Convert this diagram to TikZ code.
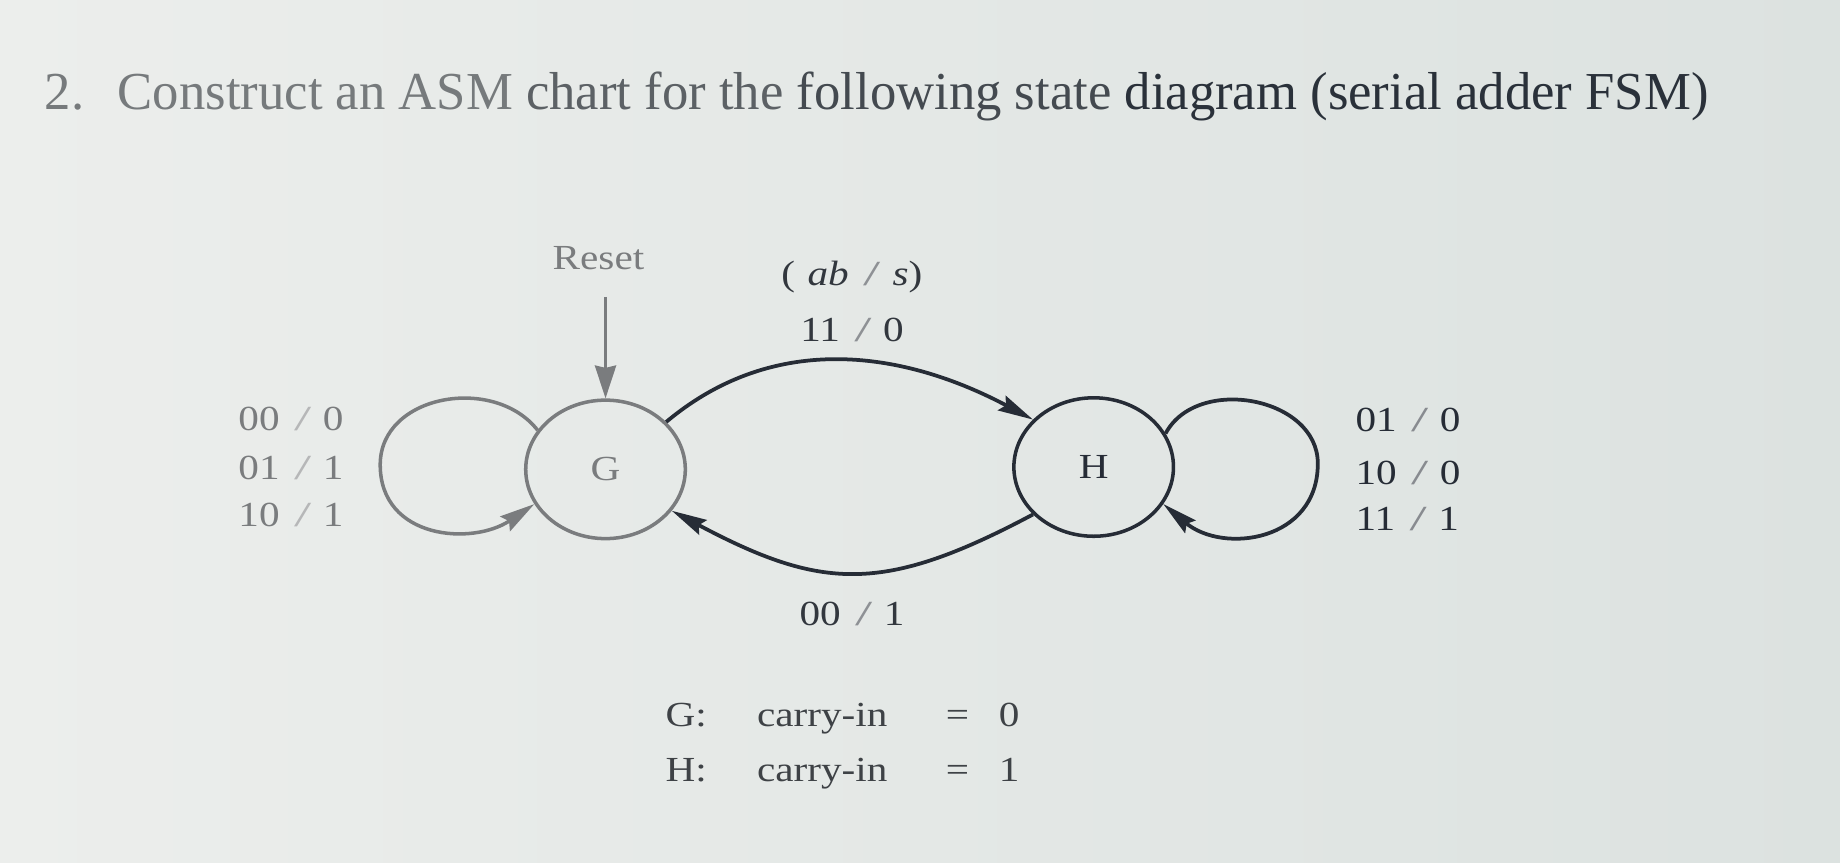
\documentclass[tikz,border=0pt]{standalone}
\usepackage{fontspec}
\usepackage{graphicx}
\setmainfont{Liberation Serif}
\usetikzlibrary{arrows.meta,shapes.geometric}
\definecolor{bgl}{RGB}{236,238,236}
\definecolor{bgr}{RGB}{220,226,224}
\definecolor{gc}{RGB}{122,124,126}
\definecolor{hc}{RGB}{38,44,54}
\definecolor{lc}{RGB}{50,55,62}
\definecolor{tc}{RGB}{62,66,70}
\definecolor{ta}{RGB}{118,122,124}
\definecolor{tb}{RGB}{92,97,101}
\definecolor{td}{RGB}{68,74,80}
\definecolor{te}{RGB}{42,49,58}
\newcommand\ws[1]{\scalebox{1.17}[1]{#1}}
\newcommand\io[2]{#1\hspace{.35em}{\color{.!55!white}\scalebox{1.5}[1]{/}}\hspace{.28em}#2}
\begin{document}
\begin{tikzpicture}[x=1pt,y=1pt,
  state/.style={ellipse, draw, line width=3pt, minimum width=136pt, minimum height=118pt, inner sep=0pt, font=\fontsize{30}{36}\selectfont},
  lbl/.style={font=\fontsize{30}{36}\selectfont, inner sep=0pt},
  gtr/.style={draw=gc, line width=3pt, -{Stealth[length=30pt,width=15pt,inset=4pt]}},
  htr/.style={draw=hc, line width=3.2pt, -{Stealth[length=30pt,width=14pt,inset=4pt]}},
]
\shade[left color=bgl, right color=bgr] (0,0) rectangle (1568,735);
\useasboundingbox (0,0) rectangle (1568,735);
\node[anchor=base west, font=\fontsize{45.5}{52}\selectfont, inner sep=0pt] (title) at (38,642) {\scalebox{0.987}[1]{\textcolor{ta}{2.\hspace{.3em} Construct an ASM} \textcolor{tb}{chart for the} \textcolor{td}{following state} \textcolor{te}{diagram (serial adder FSM)}}};

\node[state, draw=gc, text=gc] (G) at (516,335) {\ws{G}};
\node[state, draw=hc, text=hc] (H) at (932,337) {\ws{H}};

\node[lbl, text=gc, anchor=base] (reset) at (510,505) {\ws{Reset}};
\coordinate (rs) at (516,482);
\draw[draw=gc, line width=2.6pt, -{Stealth[length=28pt,width=18pt,inset=2pt]}] (rs) -- (G.north);

\coordinate (gll) at (324,339);
\draw[gtr] (G.150) to[out=128,in=90,looseness=1.12] (gll) to[out=270,in=214,looseness=1.2] (G.206);
\node[lbl, text=gc, anchor=base west] (gl1) at (203,368) {\ws{\io{00}{0}}};
\node[lbl, text=gc, anchor=base west] (gl2) at (203,326) {\ws{\io{01}{1}}};
\node[lbl, text=gc, anchor=base west] (gl3) at (203,286) {\ws{\io{10}{1}}};

\coordinate (hlr) at (1123,340);
\draw[htr] (H.25) to[out=62,in=90,looseness=1.1] (hlr) to[out=270,in=-40,looseness=1.25] (H.-28);
\node[lbl, text=hc, anchor=base west] (hl1) at (1155,367) {\ws{\io{01}{0}}};
\node[lbl, text=hc, anchor=base west] (hl2) at (1155,322) {\ws{\io{10}{0}}};
\node[lbl, text=hc, anchor=base west] (hl3) at (1155,283) {\ws{\io{11}{1}}};

\draw[htr] (G.38) to[out=40,in=152,looseness=1.0] (H.142);
\draw[htr] (H.218) to[out=208,in=-28,looseness=1.2] (G.-32);

\node[lbl, text=lc, anchor=base] (abs) at (726,492) {\ws{(\hspace{.3em}\textit{ab}\hspace{.35em}{\color{.!55!white}\scalebox{1.5}[1]{/}}\hspace{.3em}\textit{s})}};
\node[lbl, text=lc, anchor=base] (t11) at (726,444) {\ws{\io{11}{0}}};
\node[lbl, text=lc, anchor=base] (t00) at (726,202) {\ws{\io{00}{1}}};

\node[lbl, text=tc, anchor=base west] (tg) at (567,116) {\ws{G:}};
\node[lbl, text=tc, anchor=base west] (tgc) at (645,116) {\ws{carry-in}};
\node[lbl, text=tc, anchor=base] (tge) at (816,116) {\ws{=}};
\node[lbl, text=tc, anchor=base] (tgv) at (860,116) {\ws{0}};
\node[lbl, text=tc, anchor=base west] (th) at (567,69) {\ws{H:}};
\node[lbl, text=tc, anchor=base west] (thc) at (645,69) {\ws{carry-in}};
\node[lbl, text=tc, anchor=base] (the) at (816,69) {\ws{=}};
\node[lbl, text=tc, anchor=base] (thv) at (860,69) {\ws{1}};
\end{tikzpicture}
\end{document}
